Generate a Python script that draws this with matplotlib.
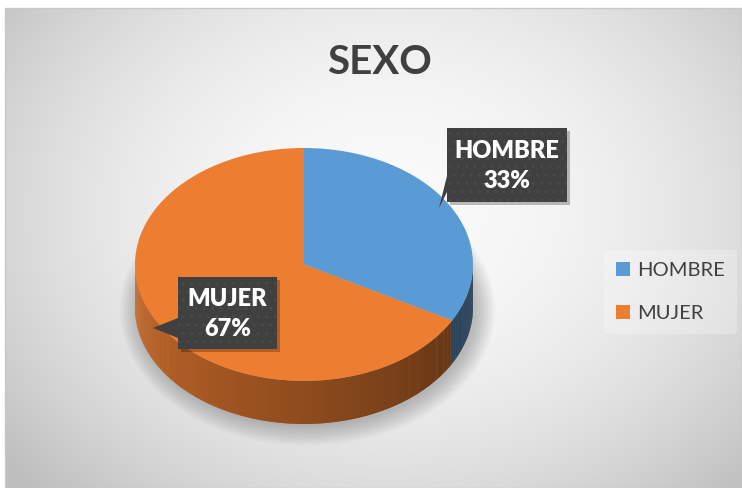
import numpy as np
import matplotlib.pyplot as plt
from matplotlib.patches import Rectangle, Polygon, Ellipse, Patch

# data
categories = ["HOMBRE", "MUJER"]
values = [33, 67]
colors = ["#5b9bd5", "#ed7d31"]
title = "SEXO"

plt.rcParams['font.family'] = ['Lato', 'DejaVu Sans']
plt.rcParams['hatch.color'] = "#4a4a4a"

W, H = 742, 488
fig = plt.figure(figsize=(W / 100, H / 100), dpi=100)
fig.patch.set_facecolor("white")

# background with radial gradient
bg = fig.add_axes([0, 0, 1, 1])
bg.set_xlim(0, W)
bg.set_ylim(H, 0)
bg.axis("off")
xx, yy = np.meshgrid(np.arange(5, W), np.arange(8, H))
r2 = ((xx - 390) / 420.0) ** 2 + ((yy - 210) / 330.0) ** 2
g = np.clip(250 - 42 * r2, 190, 250) / 255.0
bg.imshow(np.dstack([g, g, g]), extent=(5, W, H, 8), aspect="auto", zorder=0)
bg.add_patch(Rectangle((5, 8), W - 5, H - 8, fill=False, ec="#c8c8c8", lw=1, zorder=1))
bg.text(379, 62, title, ha="center", va="center", fontsize=29,
        fontweight="bold", color="#404040")

# 3d-ish pie
depth = 0.37
ax = fig.add_axes([135 / W, 64 / H, 338 / W, 276 / H])
ax.patch.set_alpha(0)

# soft shadow
for i in range(12):
    ax.add_patch(Ellipse((0.02, -depth - 0.02), 2.0 + i * 0.02, 2.0 + i * 0.03,
                         fc="black", alpha=0.018, lw=0, clip_on=False, zorder=0))

# side wall
cum = np.cumsum(values) / np.sum(values)
step = 0.5
for th in np.arange(180, 360, step):
    frac = ((90 - (th + step / 2)) % 360) / 360
    idx = min(np.searchsorted(cum, frac), len(values) - 1)
    base = np.array(plt.matplotlib.colors.to_rgb(colors[idx]))
    k = 0.85 - 0.5 * (th - 180) / 180
    t1, t2 = np.radians(th), np.radians(th + step + 0.3)
    pts = [(np.cos(t1), np.sin(t1)), (np.cos(t2), np.sin(t2)),
           (np.cos(t2), np.sin(t2) - depth), (np.cos(t1), np.sin(t1) - depth)]
    ax.add_patch(Polygon(pts, fc=base * k, ec="none", zorder=1))

wedges, _ = ax.pie(values, colors=colors, startangle=90, counterclock=False,
                   radius=1, center=(0, 0), wedgeprops=dict(linewidth=0))
for w in wedges:
    w.set_zorder(2)
ax.set_xlim(-1, 1)
ax.set_ylim(-1 - depth, 1)
ax.set_aspect("auto")
ax.axis("off")

# callout labels
ov = fig.add_axes([0, 0, 1, 1])
ov.set_xlim(0, W)
ov.set_ylim(H, 0)
ov.axis("off")
ov.patch.set_alpha(0)

pct = [v / sum(values) * 100 for v in values]
boxes = [
    dict(rect=(447, 128, 120, 74), tip=[(447, 176), (447, 192), (439, 208)]),
    dict(rect=(178, 277, 99, 72), tip=[(178, 318), (178, 338), (153, 328)]),
]
for name, p, b in zip(categories, pct, boxes):
    x, y, w, h = b["rect"]
    ov.add_patch(Rectangle((x + 3, y + 3), w, h, fc="black", alpha=0.25, lw=0))
    ov.add_patch(Rectangle((x, y), w, h, fc="#404040", ec="#4a4a4a", lw=0,
                           hatch="..", zorder=3))
    ov.add_patch(Polygon(b["tip"], fc="#404040", lw=0, zorder=3))
    ov.text(x + w / 2, y + h / 2 + 1, f"{name}\n{p:.0f}%", ha="center", va="center",
            fontsize=17, fontweight="heavy", color="white", linespacing=1.4, zorder=4)

# legend
handles = [Patch(fc=c, ec="none") for c in colors]
leg = fig.legend(handles, categories, loc="center left",
                 bbox_to_anchor=(594 / W, 1 - 292 / H), frameon=True,
                 fontsize=14.5, handlelength=0.7, handleheight=0.7,
                 handletextpad=0.35, labelspacing=1.3, borderpad=0.6)
leg.get_frame().set_facecolor("white")
leg.get_frame().set_alpha(0.25)
leg.get_frame().set_linewidth(0)
for t in leg.get_texts():
    t.set_color("#404040")

fig.savefig("out.png", dpi=100)
